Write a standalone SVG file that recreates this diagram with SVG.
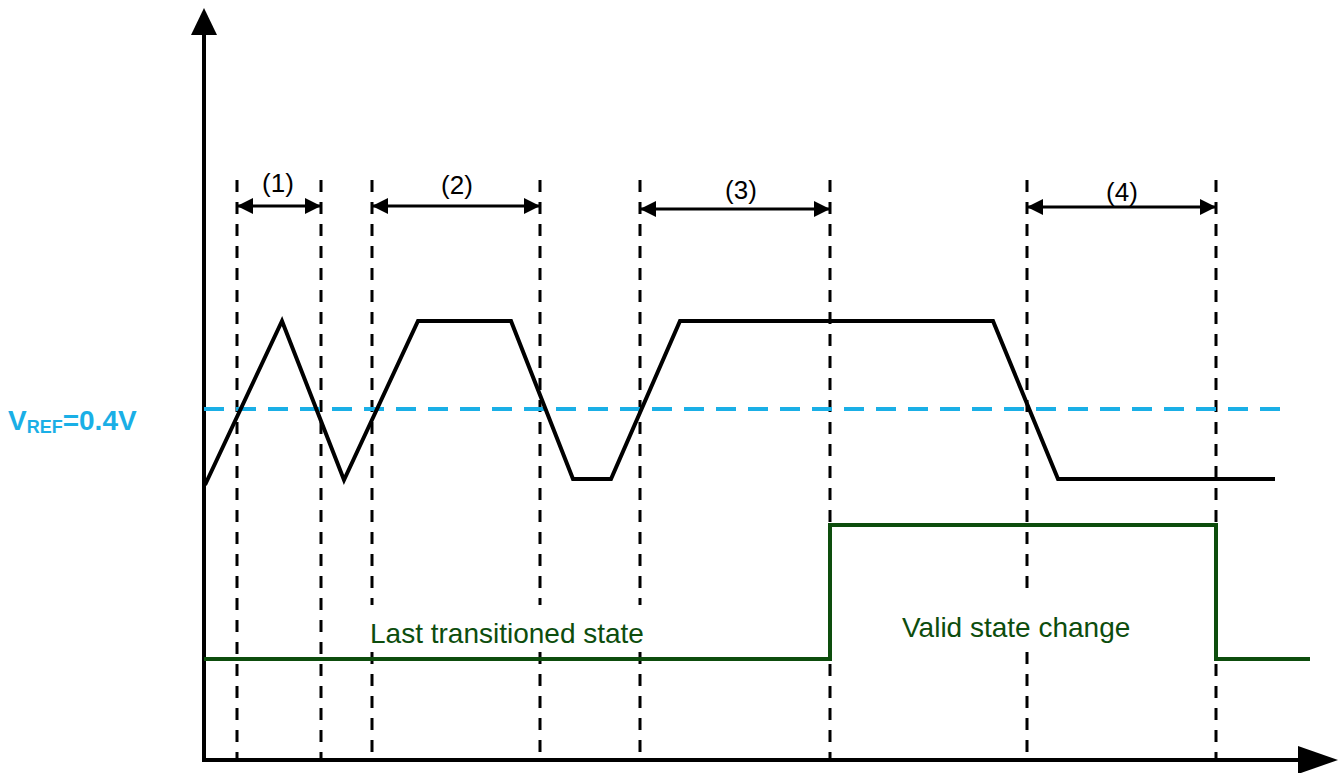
<svg xmlns="http://www.w3.org/2000/svg" width="1339" height="773" viewBox="0 0 1339 773">
<style>
.axis{stroke:#000;stroke-width:4;fill:none}
.dash{stroke:#000;stroke-width:3;stroke-dasharray:12 10;fill:none}
.wave{stroke:#000;stroke-width:4;fill:none;stroke-linejoin:miter}
.vref{stroke:#1AAFE6;stroke-width:4;stroke-dasharray:20 12;fill:none}
.green{stroke:#0D4D0D;stroke-width:4;fill:none}
.dim{stroke:#000;stroke-width:3;fill:none;marker-start:url(#ah);marker-end:url(#ah)}
.lbl{font-family:"Liberation Sans",Arial,sans-serif;font-size:26px;fill:#000;text-anchor:middle}
.glbl{font-family:"Liberation Sans",Arial,sans-serif;font-size:28px;fill:#0D4D0D}
.vlbl{font-family:"Liberation Sans",Arial,sans-serif;font-weight:bold;fill:#1AAFE6}
</style>
<defs>
<marker id="ah" markerUnits="userSpaceOnUse" markerWidth="17" markerHeight="17" refX="16" refY="8" orient="auto-start-reverse" viewBox="0 0 17 17">
<path d="M0,0 L16,8 L0,16 z" fill="#000"/>
</marker>
</defs>
<g id="axes">
<line class="axis" x1="204" y1="760" x2="204" y2="32"/>
<polygon points="204,8 191,35 217,35" fill="#000"/>
<line class="axis" x1="202" y1="760" x2="1300" y2="760"/>
<polygon points="1338,760 1298,746 1298,774" fill="#000"/>
</g>
<g id="dashed-lines">
<line class="dash" x1="237" y1="180" x2="237" y2="758"/>
<line class="dash" x1="321" y1="180" x2="321" y2="758"/>
<line class="dash" x1="372" y1="180" x2="372" y2="605"/>
<line class="dash" x1="372" y1="652" x2="372" y2="758"/>
<line class="dash" x1="540" y1="180" x2="540" y2="605"/>
<line class="dash" x1="540" y1="652" x2="540" y2="758"/>
<line class="dash" x1="640" y1="180" x2="640" y2="605"/>
<line class="dash" x1="640" y1="652" x2="640" y2="758"/>
<line class="dash" x1="830" y1="180" x2="830" y2="758"/>
<line class="dash" x1="1027" y1="180" x2="1027" y2="598"/>
<line class="dash" x1="1027" y1="652" x2="1027" y2="758"/>
<line class="dash" x1="1216" y1="180" x2="1216" y2="758"/>
</g>
<g id="vref">
<line class="vref" x1="204" y1="409" x2="1280" y2="409"/>
<text class="vlbl" x="8" y="430" font-size="28">V<tspan font-size="18" dy="3">REF</tspan><tspan dy="-3">=0.4V</tspan></text>
</g>
<g id="waveform">
<polyline class="wave" points="205,485 282,321 344,480 418,321 511,321 573,479 611,479 680,321 993,321 1058,479 1275,479"/>
</g>
<g id="state-signal">
<polyline class="green" points="204,659 830,659 830,525 1216,525 1216,659 1310,659"/>
<text class="glbl" x="370" y="643">Last transitioned state</text>
<text class="glbl" x="902" y="637">Valid state change</text>
</g>
<g id="intervals">
<line class="dim" x1="237" y1="206" x2="321" y2="206"/>
<text class="lbl" x="278" y="192">(1)</text>
<line class="dim" x1="372" y1="206" x2="540" y2="206"/>
<text class="lbl" x="457" y="194">(2)</text>
<line class="dim" x1="640" y1="209" x2="830" y2="209"/>
<text class="lbl" x="741" y="199">(3)</text>
<line class="dim" x1="1027" y1="207" x2="1216" y2="207"/>
<text class="lbl" x="1122" y="201">(4)</text>
</g>
</svg>
